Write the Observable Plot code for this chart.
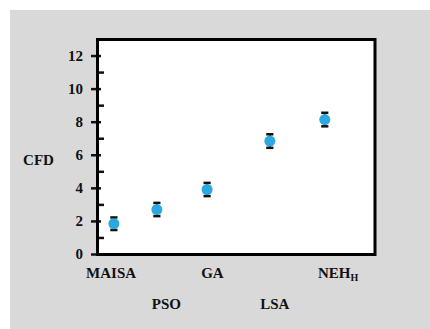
<!DOCTYPE html>
<html>
<head>
<meta charset="utf-8">
<script src="https://cdn.jsdelivr.net/npm/d3@7"></script>
<script src="https://cdn.jsdelivr.net/npm/@observablehq/plot@0.6"></script>
<style>
  html, body { margin: 0; padding: 0; background: #ffffff; }
  #panel { position: absolute; left: 10px; top: 10px; width: 420px; height: 319px; background: #d9d9d9; }
</style>
</head>
<body>
<div id="panel"></div>
<script>
// Data
const methods = ["MAISA", "PSO", "GA", "LSA", "NEH_H"];
const methodPos = [0.59, 2.14, 3.95, 6.21, 8.19];     // horizontal placement of each method's point
const cfd = [1.86, 2.72, 3.93, 6.86, 8.16];            // CFD mean
const cfdErr = [0.38, 0.40, 0.40, 0.41, 0.41];         // error half-width
const labelPos = [0.49, 2.48, 4.14, 6.39, 8.67];       // category label centers
const majorTicks = [0, 2, 4, 6, 8, 10, 12];
const minorTicks = [1, 3, 5, 7, 9, 11];
const yLabel = "CFD";

const rows = methods.map((m, i) => ({
  method: m, x: methodPos[i], y: cfd[i],
  lo: cfd[i] - cfdErr[i], hi: cfd[i] + cfdErr[i],
  lx: labelPos[i], row: i % 2
}));

const capSymbol = {
  draw(context, size) {
    const w = Math.sqrt(size / Math.PI);
    context.moveTo(-w, 0);
    context.lineTo(w, 0);
  }
};

const FONT = "Liberation Serif";

const chart = Plot.plot({
  width: 420,
  height: 319,
  marginLeft: 87,
  marginRight: 55.5,
  marginTop: 29,
  marginBottom: 75,
  style: { fontFamily: FONT, fontSize: "15px", fontWeight: "bold", color: "#111", background: "transparent" },
  x: { domain: [0, 10], axis: null },
  y: { domain: [0, 13], axis: null },
  marks: [
    Plot.frame({ fill: "white", stroke: null }),
    Plot.axisY({ ticks: majorTicks, tickSize: 10, dx: 4, tickPadding: 8.5, strokeWidth: 2.5, tickFormat: d => String(d), fontSize: 15, fontWeight: "bold", fontFamily: FONT }),
    Plot.axisY({ ticks: minorTicks, tickSize: 7, dx: 7, strokeWidth: 2.5, tickFormat: () => "" }),
    Plot.ruleX(rows, { x: "x", y1: "lo", y2: "hi", stroke: "#111", strokeWidth: 2 }),
    Plot.dot(rows, { x: "x", y: "lo", symbol: capSymbol, r: 3.6, stroke: "#111", strokeWidth: 2.5, fill: "none" }),
    Plot.dot(rows, { x: "x", y: "hi", symbol: capSymbol, r: 3.6, stroke: "#111", strokeWidth: 2.5, fill: "none" }),
    Plot.dot(rows, { x: "x", y: "y", r: 5.5, fill: "#2aa8df", stroke: null }),
    Plot.text(rows.filter(d => d.row === 0), { x: "lx", text: "method", frameAnchor: "bottom", dy: 18.5, lineAnchor: "middle", fontSize: 15, fontWeight: "bold", fontFamily: FONT }),
    Plot.text(rows.filter(d => d.row === 1), { x: "lx", text: "method", frameAnchor: "bottom", dy: 50, lineAnchor: "middle", fontSize: 15, fontWeight: "bold", fontFamily: FONT }),
    Plot.text([yLabel], { text: d => d, frameAnchor: "left", textAnchor: "middle", dx: -59, dy: 13.5, lineAnchor: "middle", fontSize: 15, fontWeight: "bold", fontFamily: FONT }),
    Plot.frame({ stroke: "black", strokeWidth: 3 })
  ]
});

// force serif font on every text and add subscript for NEH_H
chart.querySelectorAll("text").forEach(t => {
  t.setAttribute("font-family", FONT);
  t.setAttribute("font-weight", "bold");
  t.style.fontFamily = "'Liberation Serif'";
  if (t.textContent === "NEH_H") {
    t.textContent = "NEH";
    const sub = document.createElementNS("http://www.w3.org/2000/svg", "tspan");
    sub.textContent = "H";
    sub.setAttribute("font-size", "10");
    sub.setAttribute("dy", "3");
    t.appendChild(sub);
  }
});

document.getElementById("panel").appendChild(chart);
</script>
</body>
</html>
